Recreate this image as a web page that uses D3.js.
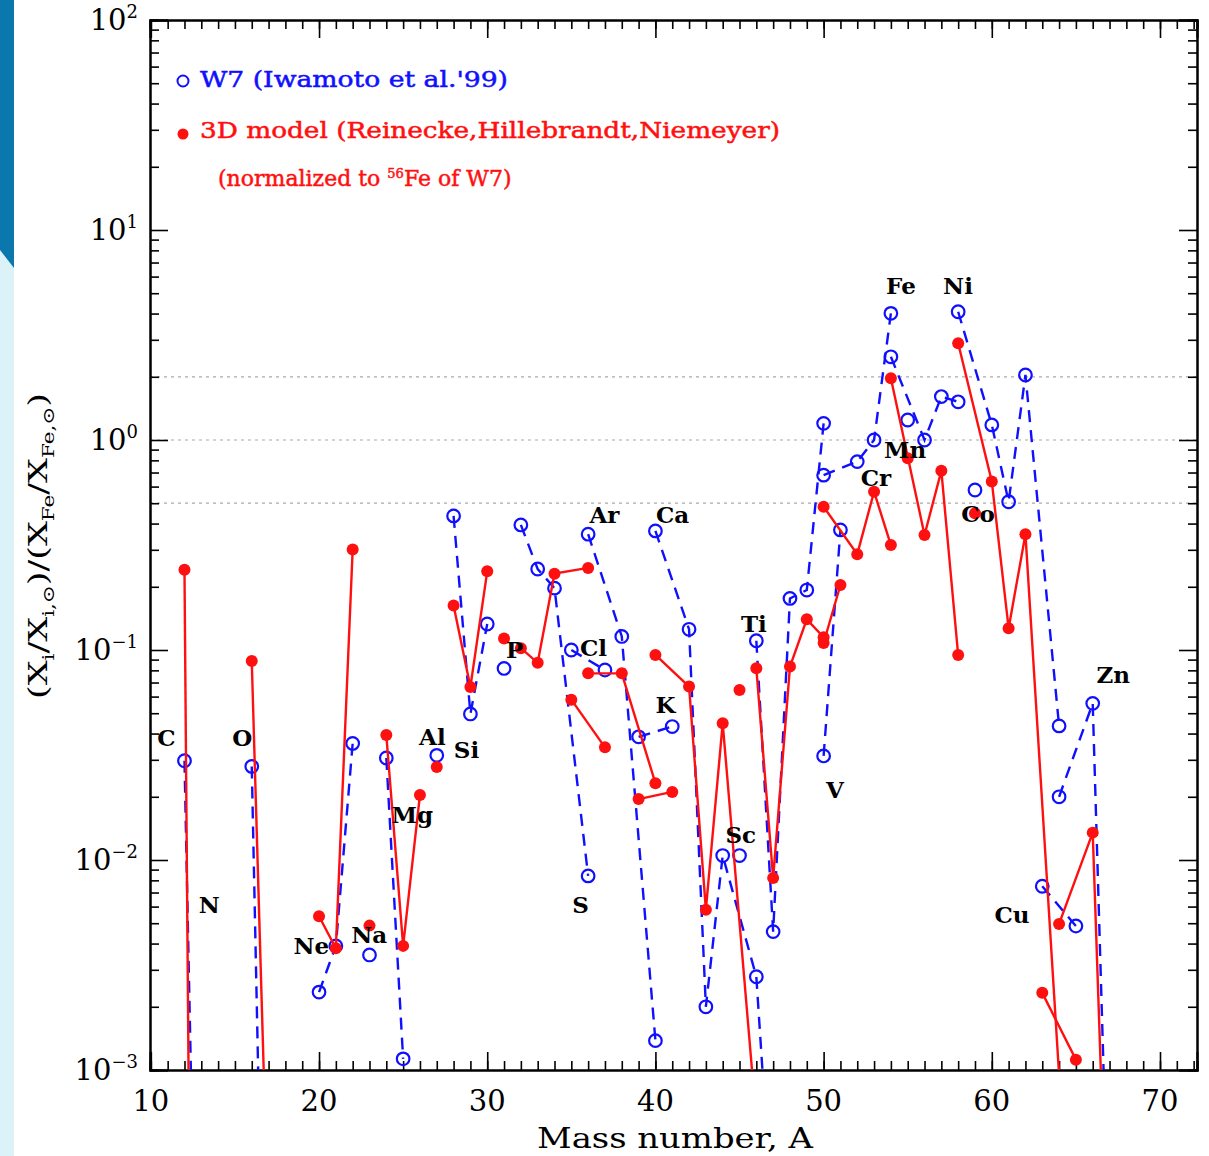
<!DOCTYPE html>
<html>
<head>
<meta charset="utf-8">
<script src="https://d3js.org/d3.v7.min.js"></script>
<style>
  body { margin: 0; background: #fff; }
  svg { display: block; }
  .axis path { stroke: #000; stroke-width: 2; }
  .axis line { stroke: #000; stroke-width: 1.6; }
  .axis text { display: none; }
</style>
</head>
<body>
<div id="chart"></div>
<script>
/* isotope ratios: [element, mass numbers, ratio] */
var w7 = [
  ["C",  [12, 13], [0.0297, 4e-6]],
  ["O",  [16, 17], [0.0279, 4.4e-6]],
  ["Ne", [20, 21, 22], [0.00235, 0.0039, 0.0359]],
  ["Na", [23], [0.00353]],
  ["Mg", [24, 25], [0.0306, 0.00113]],
  ["Al", [27], [0.0315]],
  ["Si", [28, 29, 30], [0.435, 0.0496, 0.133]],
  ["P",  [31], [0.0817]],
  ["S",  [32, 33, 34, 36], [0.394, 0.243, 0.197, 0.0084]],
  ["Cl", [35, 37], [0.100, 0.0803]],
  ["Ar", [36, 38, 40], [0.356, 0.116, 0.00138]],
  ["K",  [39, 41], [0.0386, 0.0432]],
  ["Ca", [40, 42, 43, 44, 46, 48], [0.369, 0.1255, 0.0020, 0.0105, 0.00278, 1e-5]],
  ["Sc", [45], [0.0105]],
  ["Ti", [46, 47, 48, 49, 50], [0.1107, 0.00456, 0.176, 0.193, 1.20]],
  ["V",  [50, 51], [0.0313, 0.373]],
  ["Cr", [50, 52, 53, 54], [0.68, 0.789, 1.0, 4.01]],
  ["Mn", [55], [1.245]],
  ["Fe", [54, 56, 57, 58], [2.49, 1.0, 1.61, 1.52]],
  ["Co", [59], [0.578]],
  ["Ni", [58, 60, 61, 62, 64], [4.08, 1.18, 0.508, 2.04, 0.0435]],
  ["Cu", [63, 65], [0.0075, 0.00485]],
  ["Zn", [64, 66, 67], [0.020, 0.0557, 1.1e-4]]
];

var model3d = [
  ["C",  [12, 13], [0.241, 3e-11]],
  ["O",  [16, 17], [0.0887, 1.6e-4]],
  ["Ne", [20, 21, 22], [0.0054, 0.0038, 0.301]],
  ["Na", [23], [0.00487]],
  ["Mg", [24, 25, 26], [0.0394, 0.0039, 0.0204]],
  ["Al", [27], [0.0277]],
  ["Si", [28, 29, 30], [0.163, 0.0667, 0.237]],
  ["P",  [31], [0.1135]],
  ["S",  [32, 33, 34, 36], [0.102, 0.0869, 0.231, 0.246]],
  ["Cl", [35, 37], [0.058, 0.0344]],
  ["Ar", [36, 38, 40], [0.0774, 0.0774, 0.0232]],
  ["K",  [39, 41], [0.0195, 0.0211]],
  ["Ca", [40, 42, 43, 44, 46], [0.0947, 0.067, 0.0058, 0.0448, 5.7e-4]],
  ["Sc", [45], [0.0645]],
  ["Ti", [46, 47, 48, 49, 50], [0.0818, 0.0082, 0.0834, 0.14, 0.115]],
  ["V",  [50, 51], [0.108, 0.204]],
  ["Cr", [50, 52, 53, 54], [0.481, 0.286, 0.567, 0.316]],
  ["Mn", [55], [0.818]],
  ["Fe", [54, 56, 57, 58], [1.97, 0.353, 0.714, 0.0946]],
  ["Co", [59], [0.448]],
  ["Ni", [58, 60, 61, 62, 64], [2.89, 0.634, 0.127, 0.356, 9.5e-4]],
  ["Cu", [63, 65], [0.00233, 0.00112]],
  ["Zn", [64, 66, 67], [0.00496, 0.0135, 6e-5]]
];

/* where each element name sits, in data units (mass number, ratio) */
var elementLabels = [
  ["C", 10.92, 0.0381], ["N", 13.47, 0.0061], ["O", 15.44, 0.0381],
  ["Ne", 19.54, 0.0039], ["Na", 22.99, 0.0044], ["Mg", 25.55, 0.0164],
  ["Al", 26.74, 0.0385], ["Si", 28.77, 0.0334], ["P", 31.63, 0.1],
  ["S", 35.55, 0.0061], ["Cl", 36.32, 0.103], ["Ar", 36.97, 0.44],
  ["Ca", 41.02, 0.44], ["K", 40.6, 0.0547], ["Sc", 45.07, 0.01315],
  ["Ti", 45.85, 0.133], ["V", 50.67, 0.0216], ["Cr", 53.11, 0.659],
  ["Mn", 54.84, 0.896], ["Fe", 54.6, 5.41], ["Ni", 57.99, 5.41],
  ["Co", 59.18, 0.444], ["Cu", 61.2, 0.00547], ["Zn", 67.22, 0.076]
];

var xTicks = [10, 20, 30, 40, 50, 60, 70];
var yTicks = [1e-3, 1e-2, 1e-1, 1, 10, 100];
var yExponents = ["\u22123", "\u22122", "\u22121", "0", "1", "2"];
var refLines = [0.5, 1, 2];
var legendLabels = ["W7 (Iwamoto et al.'99)", "3D model (Reinecke,Hillebrandt,Niemeyer)"];

var margin = {top: 20, right: 12, bottom: 86, left: 150},
    width = 1209 - margin.left - margin.right,
    height = 1156 - margin.top - margin.bottom;

var blue = "#1010ff", red = "#ff1010";
var serif = "'DejaVu Serif', serif";

var svg = d3.select("#chart").append("svg")
    .attr("width", 1209).attr("height", 1156);

/* side strip of the slide */
svg.append("rect").attr("x", 0).attr("y", 0).attr("width", 14).attr("height", 1156)
    .attr("fill", "#daf2f8");
svg.append("path").attr("d", "M0,0H14V268L0,250Z").attr("fill", "#0a77ad");

var g = svg.append("g").attr("transform", "translate(" + margin.left + "," + margin.top + ")");

var x = d3.scaleLinear().domain([9.95, 72.2]).range([0, width]);
var y = d3.scaleLog().domain([1e-3, 100]).range([height, 0]);

g.append("clipPath").attr("id", "plot-clip")
  .append("rect").attr("width", width).attr("height", height);

/* dotted reference lines */
g.selectAll(".ref")
  .data(refLines)
  .enter().append("line")
    .attr("x1", 0).attr("x2", width)
    .attr("y1", function(d) { return y(d); })
    .attr("y2", function(d) { return y(d); })
    .attr("stroke", "#aaa").attr("stroke-width", 1.2)
    .attr("stroke-dasharray", "3,4");

var xMinor = d3.range(10, 73);
var yMinor = [];
yTicks.slice(0, -1).forEach(function(d) {
  for (var k = 2; k < 10; k++) yMinor.push(d * k);
});

/* axes: ticks point inward on all four sides */
function drawAxis(axisFn, scale, major, minor, tr) {
  g.append("g").attr("class", "axis").attr("transform", tr)
    .call(axisFn(scale).tickValues(minor).tickSize(-9).tickFormat(""));
  g.append("g").attr("class", "axis").attr("transform", tr)
    .call(axisFn(scale).tickValues(major).tickSize(-18).tickFormat(""));
}
drawAxis(d3.axisBottom, x, xTicks, xMinor, "translate(0," + height + ")");
drawAxis(d3.axisTop, x, xTicks, xMinor, "translate(0,0)");
drawAxis(d3.axisLeft, y, yTicks, yMinor, "translate(0,0)");
drawAxis(d3.axisRight, y, yTicks, yMinor, "translate(" + width + ",0)");

g.selectAll(".axis path").attr("stroke-width", 2.2);

/* tick labels */
g.selectAll(".xlab")
  .data(xTicks)
  .enter().append("text")
    .attr("x", function(d) { return x(d); })
    .attr("y", height + 41)
    .attr("text-anchor", "middle")
    .attr("font-family", serif).attr("font-size", 29)
    .text(function(d) { return d; });

var ylab = g.selectAll(".ylab")
  .data(yTicks)
  .enter().append("text")
    .attr("x", -12)
    .attr("y", function(d) { return y(d) + 10; })
    .attr("text-anchor", "end")
    .attr("font-family", serif).attr("font-size", 29);
ylab.append("tspan").text("10");
ylab.append("tspan").attr("dy", -12).attr("font-size", 18)
    .text(function(d, i) { return yExponents[i]; });

/* axis titles */
svg.append("text")
    .attr("x", 675).attr("y", 1148)
    .attr("text-anchor", "middle")
    .attr("font-family", serif).attr("font-size", 28)
    .attr("textLength", 276).attr("lengthAdjust", "spacingAndGlyphs")
    .text("Mass number, A");

var yt = svg.append("text")
    .attr("transform", "translate(47,546) rotate(-90)")
    .attr("text-anchor", "middle")
    .attr("font-family", serif).attr("font-size", 26)
    .attr("textLength", 306).attr("lengthAdjust", "spacingAndGlyphs");
[["(X", 0], ["i", 1], ["/X", 0], ["i,\u2299", 1], [")/(X", 0], ["Fe", 1], ["/X", 0], ["Fe,\u2299", 1], [")", 0]]
  .forEach(function(p, i, arr) {
    var prevSub = i > 0 && arr[i - 1][1];
    yt.append("tspan")
      .attr("font-size", p[1] ? 16 : 26)
      .attr("dy", p[1] ? 7 : (prevSub ? -7 : 0))
      .text(p[0]);
  });

/* series */
var plot = g.append("g").attr("clip-path", "url(#plot-clip)");

var line = d3.line()
    .x(function(d) { return x(d[0]); })
    .y(function(d) { return y(d[1]); });

function points(rows) {
  return rows.map(function(r) {
    return r[1].map(function(a, i) { return [a, r[2][i]]; });
  });
}
function visible(rows) {
  return d3.merge(points(rows)).filter(function(d) { return d[1] >= 1e-3; });
}

plot.selectAll(".w7line")
  .data(points(w7).filter(function(p) { return p.length > 1; }))
  .enter().append("path")
    .attr("d", line)
    .attr("fill", "none")
    .attr("stroke", blue).attr("stroke-width", 2.4)
    .attr("stroke-dasharray", "12,8");

plot.selectAll(".w7pt")
  .data(visible(w7))
  .enter().append("circle")
    .attr("cx", function(d) { return x(d[0]); })
    .attr("cy", function(d) { return y(d[1]); })
    .attr("r", 6.3)
    .attr("fill", "none")
    .attr("stroke", blue).attr("stroke-width", 2.2);

plot.selectAll(".m3line")
  .data(points(model3d).filter(function(p) { return p.length > 1; }))
  .enter().append("path")
    .attr("d", line)
    .attr("fill", "none")
    .attr("stroke", red).attr("stroke-width", 2.4);

plot.selectAll(".m3pt")
  .data(visible(model3d))
  .enter().append("circle")
    .attr("cx", function(d) { return x(d[0]); })
    .attr("cy", function(d) { return y(d[1]); })
    .attr("r", 6)
    .attr("fill", red);

/* element names */
g.selectAll(".el")
  .data(elementLabels)
  .enter().append("text")
    .attr("x", function(d) { return x(d[1]); })
    .attr("y", function(d) { return y(d[2]); })
    .attr("dy", "0.36em")
    .attr("text-anchor", "middle")
    .attr("font-family", serif).attr("font-weight", "bold").attr("font-size", 23)
    .text(function(d) { return d[0]; });

/* legend */
svg.append("circle").attr("cx", 183).attr("cy", 81).attr("r", 5.5)
    .attr("fill", "none").attr("stroke", blue).attr("stroke-width", 2);
svg.append("text").attr("x", 200).attr("y", 87)
    .attr("font-family", serif).attr("font-size", 22).attr("fill", blue)
    .attr("stroke", blue).attr("stroke-width", 0.5)
    .attr("textLength", 308).attr("lengthAdjust", "spacingAndGlyphs")
    .text(legendLabels[0]);

svg.append("circle").attr("cx", 183).attr("cy", 134).attr("r", 5.5).attr("fill", red);
svg.append("text").attr("x", 200).attr("y", 138)
    .attr("font-family", serif).attr("font-size", 22).attr("fill", red)
    .attr("stroke", red).attr("stroke-width", 0.5)
    .attr("textLength", 580).attr("lengthAdjust", "spacingAndGlyphs")
    .text(legendLabels[1]);

var note = svg.append("text").attr("x", 218).attr("y", 186)
    .attr("font-family", serif).attr("font-size", 22).attr("fill", red)
    .attr("stroke", red).attr("stroke-width", 0.5);
note.append("tspan").text("(normalized to ");
note.append("tspan").attr("font-size", 13).attr("dy", -8).text("56");
note.append("tspan").attr("dy", 8).text("Fe of W7)");
</script>
</body>
</html>
